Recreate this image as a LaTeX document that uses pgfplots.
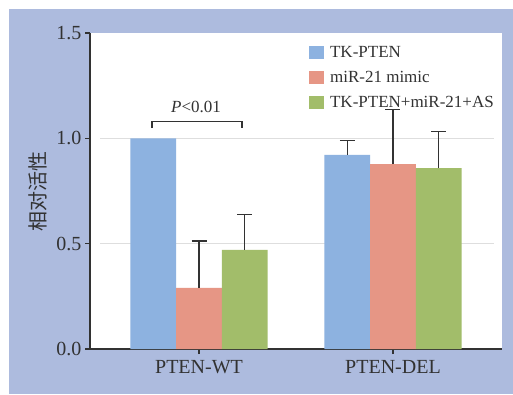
\documentclass[border=0pt]{standalone}
\usepackage{fontspec}
\setmainfont{Liberation Serif}
\newfontfamily\cjk{Noto Sans CJK SC}
\usepackage{pgfplots}
\pgfplotsset{compat=1.18}
\definecolor{bgc}{RGB}{173,187,222}
\definecolor{cblue}{RGB}{141,178,224}
\definecolor{cred}{RGB}{230,150,133}
\definecolor{cgreen}{RGB}{162,189,106}
\definecolor{axc}{RGB}{50,50,50}
\definecolor{gridc}{RGB}{222,222,222}
\begin{document}
\begin{tikzpicture}
\useasboundingbox (0,0) rectangle (513pt,394pt);
\fill[white] (0,0) rectangle (513pt,394pt);
\fill[bgc] (9pt,0) rectangle (513pt,385pt);
\begin{axis}[
  at={(90pt,45pt)}, anchor=south west,
  scale only axis, width=412pt, height=316pt,
  axis background/.style={fill=white},
  axis lines=left, axis line style={-, axc, line width=1.2pt},
  xmin=-0.562, xmax=1.562, ymin=0, ymax=1.5,
  xtick={0,1}, xticklabels={PTEN-WT,PTEN-DEL},
  ytick={0,0.5,1,1.5},
  yticklabel style={/pgf/number format/.cd,fixed,fixed zerofill,precision=1},
  /pgf/number format/assume math mode=true,
  tick align=outside, major tick length=5pt,
  tick style={axc, line width=1.2pt},
  ticklabel style={font=\fontsize{20}{24}\selectfont, text=axc},
  xticklabel style={yshift=-3pt},
  ylabel={相对活性},
  every axis y label/.style={at={(axis description cs:-0.126,0.5)}, rotate=90, anchor=center,
    font=\cjk\fontsize{20}{24}\selectfont, text=axc},
  ybar, bar width=45.7pt,
  legend style={draw=none, fill=none, at={(axis description cs:0.524,0.985)}, anchor=north west,
    font=\fontsize{17}{20}\selectfont, text=axc, row sep=0pt, column sep=6pt,
    nodes={inner sep=0pt, minimum height=25pt}},
  legend cell align=left,
  legend image code/.code={\fill[#1] (0pt,-6.5pt) rectangle (15pt,6.5pt);},
  error bars/error bar style={axc, line width=1.2pt},
  error bars/error mark options={rotate=90, mark size=7.5pt, line width=1.2pt, axc},
]
\draw[gridc, line width=1pt] (axis cs:-0.51,0.5) -- (axis cs:1.52,0.5);
\draw[gridc, line width=1pt] (axis cs:-0.51,1.0) -- (axis cs:1.52,1.0);
\addplot[fill=cblue, draw=none, bar shift=-45.7pt]
  coordinates {(0,1.00) (1,0.921)};
\addplot[fill=cred, draw=none, bar shift=0pt, error bars/.cd, y dir=plus, y explicit]
  coordinates {(0,0.29) +- (0,0.223) (1,0.878) +- (0,0.26)};
\addplot[fill=cgreen, draw=none, bar shift=45.7pt, error bars/.cd, y dir=plus, y explicit]
  coordinates {(0,0.47) +- (0,0.1675) (1,0.859) +- (0,0.174)};
\addplot[fill=none, draw=none, bar shift=-45.7pt, forget plot, error bars/.cd, y dir=plus, y explicit]
  coordinates {(1,0.921) +- (0,0.068)};
\legend{TK-PTEN, miR-21 mimic, TK-PTEN+miR-21+AS}
\draw[axc, line width=1.2pt] (axis cs:-0.242,1.048) -- (axis cs:-0.242,1.079) -- (axis cs:0.222,1.079) -- (axis cs:0.222,1.048);
\node[anchor=base, font=\fontsize{17}{20}\selectfont, text=axc, inner sep=0pt] at (axis cs:-0.015,1.125) {\textit{P}<0.01};
\end{axis}
\end{tikzpicture}
\end{document}
